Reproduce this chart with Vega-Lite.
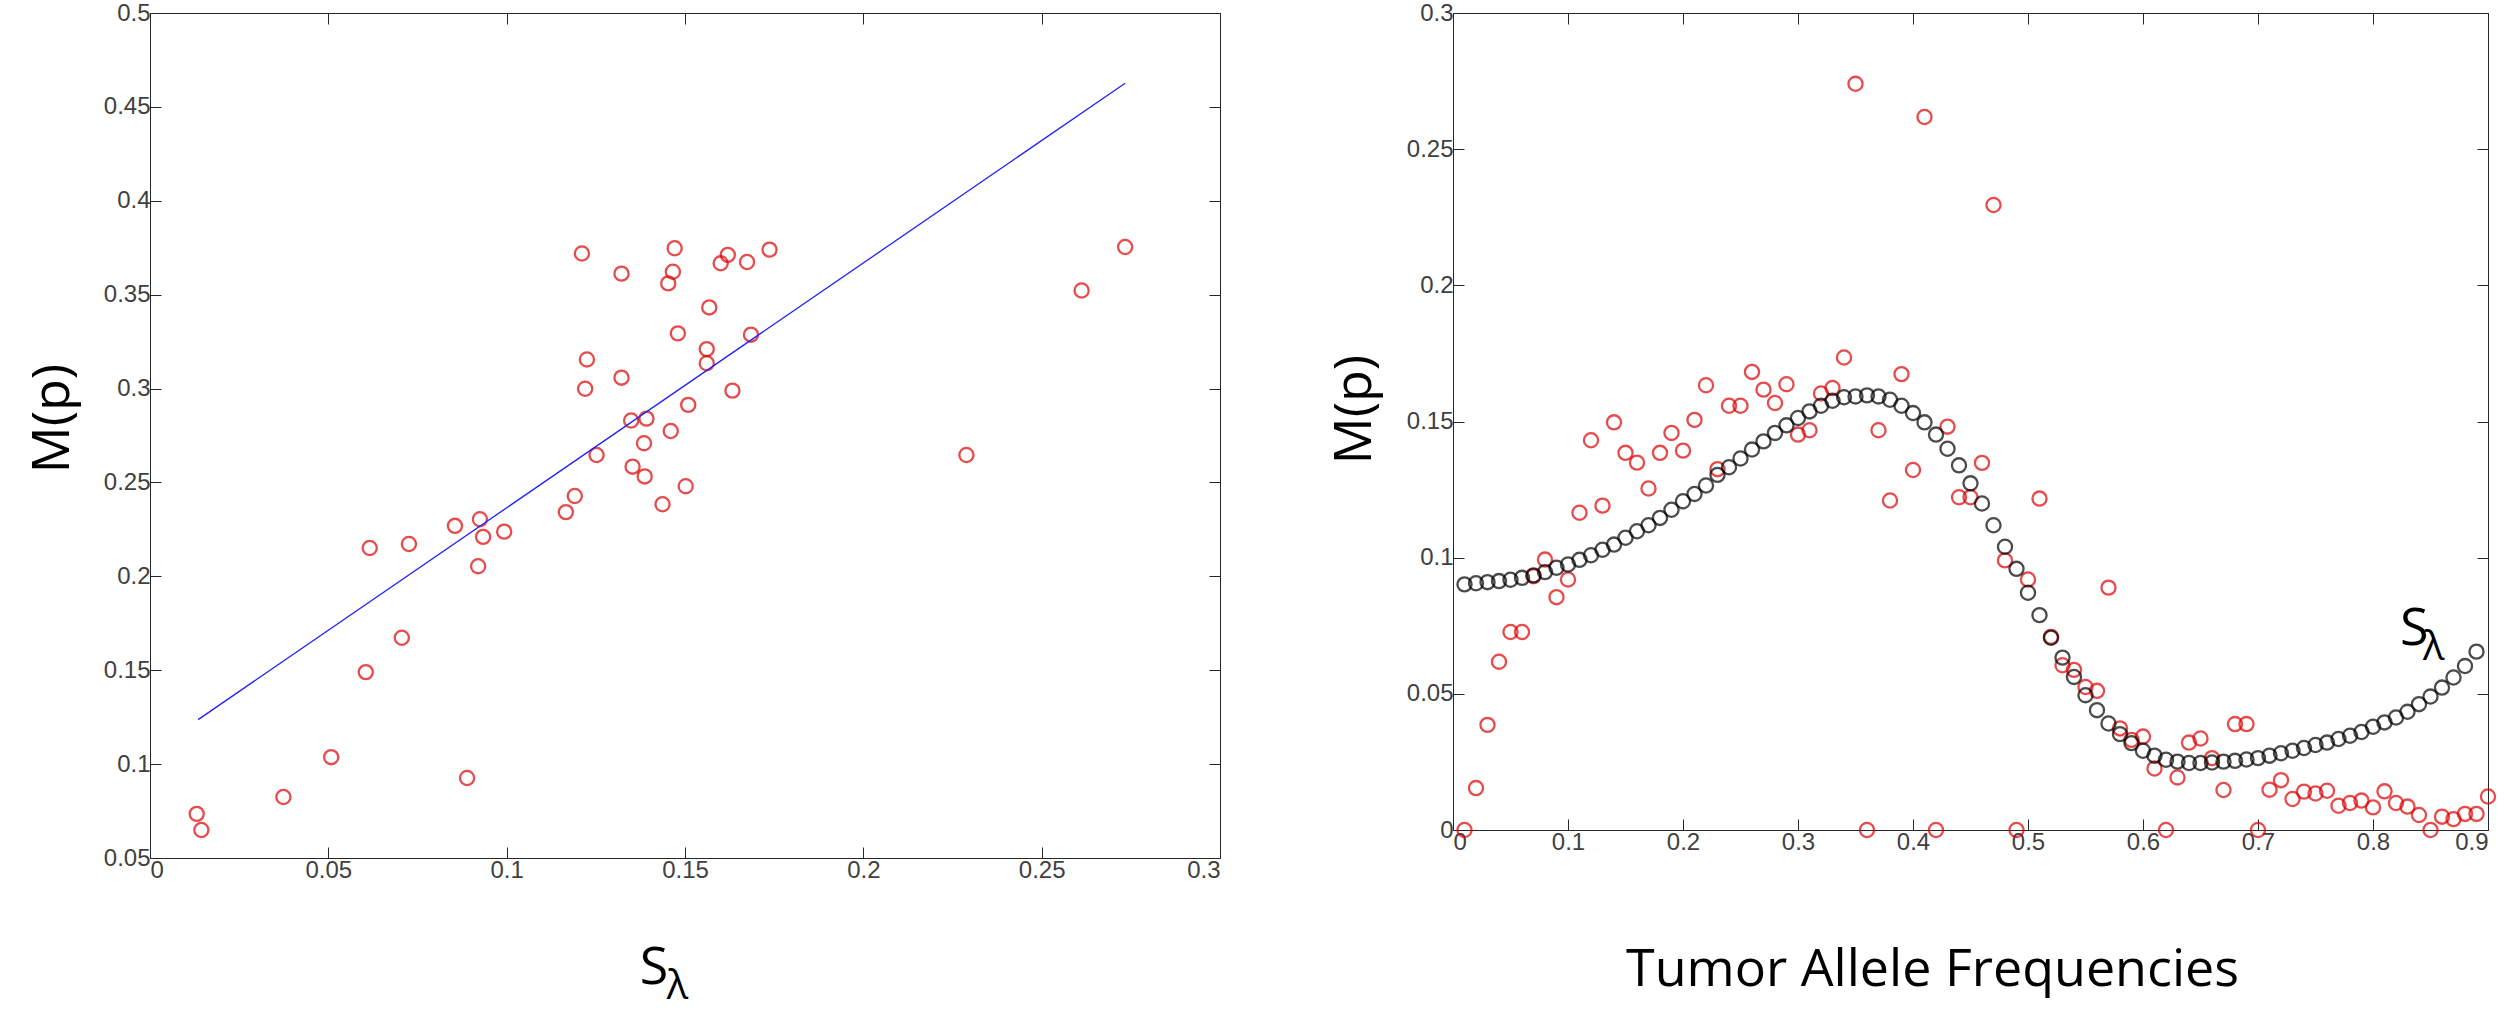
{
  "$schema": "https://vega.github.io/schema/vega-lite/v6.json",
  "padding": {"left": 25, "top": 0, "right": 0, "bottom": 15},
  "background": "white",
  "spacing": 233,
  "bounds": "flush",
  "config": {
    "view": {"stroke": "#262626", "strokeWidth": 1},
    "axis": {
      "grid": false,
      "domain": false,
      "ticks": true,
      "tickSize": -11,
      "tickColor": "#262626",
      "tickWidth": 1,
      "labelFont": "Liberation Sans",
      "labelFontSize": 24,
      "labelColor": "#404040",
      "labelPadding": 11,
      "titleFont": "Open Sans",
      "titleFontSize": 52,
      "titleFontWeight": "normal",
      "titleColor": "black"
    }
  },
  "datasets": {
    "scatter": [
      {"s": 0.0131, "m": 0.0735}, {"s": 0.0144, "m": 0.0649}, {"s": 0.0374, "m": 0.0825},
      {"s": 0.0508, "m": 0.1037}, {"s": 0.0605, "m": 0.149}, {"s": 0.0616, "m": 0.2151},
      {"s": 0.0706, "m": 0.1673}, {"s": 0.0726, "m": 0.2172}, {"s": 0.0855, "m": 0.2269},
      {"s": 0.0889, "m": 0.0926}, {"s": 0.0925, "m": 0.2304}, {"s": 0.0934, "m": 0.221},
      {"s": 0.092, "m": 0.2054}, {"s": 0.0993, "m": 0.2238}, {"s": 0.1166, "m": 0.2342},
      {"s": 0.1191, "m": 0.2428}, {"s": 0.1211, "m": 0.3719}, {"s": 0.1225, "m": 0.3155},
      {"s": 0.122, "m": 0.2999}, {"s": 0.1252, "m": 0.2646}, {"s": 0.1322, "m": 0.3612},
      {"s": 0.1322, "m": 0.3058}, {"s": 0.1349, "m": 0.283}, {"s": 0.1353, "m": 0.2584},
      {"s": 0.1392, "m": 0.284}, {"s": 0.1385, "m": 0.2709}, {"s": 0.1387, "m": 0.2532},
      {"s": 0.1437, "m": 0.2384}, {"s": 0.1453, "m": 0.356}, {"s": 0.1466, "m": 0.3622},
      {"s": 0.1471, "m": 0.3747}, {"s": 0.146, "m": 0.2774}, {"s": 0.148, "m": 0.3294},
      {"s": 0.1502, "m": 0.248}, {"s": 0.1509, "m": 0.2913}, {"s": 0.1568, "m": 0.3432},
      {"s": 0.1561, "m": 0.321}, {"s": 0.1561, "m": 0.3135}, {"s": 0.16, "m": 0.3667},
      {"s": 0.162, "m": 0.3712}, {"s": 0.1633, "m": 0.2989}, {"s": 0.1674, "m": 0.3674},
      {"s": 0.1685, "m": 0.3287}, {"s": 0.1737, "m": 0.374}, {"s": 0.2289, "m": 0.2646},
      {"s": 0.2612, "m": 0.3522}, {"s": 0.2734, "m": 0.3754}
    ],
    "fitline": [
      {"s": 0.0135, "m": 0.1237},
      {"s": 0.2734, "m": 0.4626}
    ],
    "observed": [
      {"f": 0.01, "m": 0}, {"f": 0.02, "m": 0.0154}, {"f": 0.03, "m": 0.0386}, {"f": 0.04, "m": 0.0618},
      {"f": 0.05, "m": 0.0727}, {"f": 0.06, "m": 0.0727}, {"f": 0.07, "m": 0.0932}, {"f": 0.08, "m": 0.0993},
      {"f": 0.09, "m": 0.0855}, {"f": 0.10, "m": 0.092}, {"f": 0.11, "m": 0.1165}, {"f": 0.12, "m": 0.1431},
      {"f": 0.13, "m": 0.1191}, {"f": 0.14, "m": 0.1497}, {"f": 0.15, "m": 0.1385}, {"f": 0.16, "m": 0.1349},
      {"f": 0.17, "m": 0.1254}, {"f": 0.18, "m": 0.1385}, {"f": 0.19, "m": 0.1458}, {"f": 0.20, "m": 0.1393},
      {"f": 0.21, "m": 0.1506}, {"f": 0.22, "m": 0.1633}, {"f": 0.23, "m": 0.1325}, {"f": 0.24, "m": 0.1558},
      {"f": 0.25, "m": 0.1558}, {"f": 0.26, "m": 0.1682}, {"f": 0.27, "m": 0.1617}, {"f": 0.28, "m": 0.1568},
      {"f": 0.29, "m": 0.1637}, {"f": 0.30, "m": 0.1452}, {"f": 0.31, "m": 0.1468}, {"f": 0.32, "m": 0.1603},
      {"f": 0.33, "m": 0.1623}, {"f": 0.34, "m": 0.1735}, {"f": 0.35, "m": 0.274}, {"f": 0.36, "m": 0},
      {"f": 0.37, "m": 0.1468}, {"f": 0.38, "m": 0.121}, {"f": 0.39, "m": 0.1674}, {"f": 0.40, "m": 0.1322},
      {"f": 0.41, "m": 0.2618}, {"f": 0.42, "m": 0}, {"f": 0.43, "m": 0.1481}, {"f": 0.44, "m": 0.1222},
      {"f": 0.45, "m": 0.1222}, {"f": 0.46, "m": 0.1348}, {"f": 0.47, "m": 0.2295}, {"f": 0.48, "m": 0.099},
      {"f": 0.49, "m": 0}, {"f": 0.50, "m": 0.092}, {"f": 0.51, "m": 0.1217}, {"f": 0.52, "m": 0.0709},
      {"f": 0.53, "m": 0.0605}, {"f": 0.54, "m": 0.0588}, {"f": 0.55, "m": 0.0525}, {"f": 0.56, "m": 0.0511},
      {"f": 0.57, "m": 0.089}, {"f": 0.58, "m": 0.0373}, {"f": 0.59, "m": 0.0331}, {"f": 0.60, "m": 0.0343},
      {"f": 0.61, "m": 0.0226}, {"f": 0.62, "m": 0}, {"f": 0.63, "m": 0.0193}, {"f": 0.64, "m": 0.0321},
      {"f": 0.65, "m": 0.0336}, {"f": 0.66, "m": 0.0264}, {"f": 0.67, "m": 0.0147}, {"f": 0.68, "m": 0.0389},
      {"f": 0.69, "m": 0.0389}, {"f": 0.70, "m": 0}, {"f": 0.71, "m": 0.0148}, {"f": 0.72, "m": 0.0183},
      {"f": 0.73, "m": 0.0114}, {"f": 0.74, "m": 0.0141}, {"f": 0.75, "m": 0.0134}, {"f": 0.76, "m": 0.0144},
      {"f": 0.77, "m": 0.0089}, {"f": 0.78, "m": 0.0099}, {"f": 0.79, "m": 0.0108}, {"f": 0.80, "m": 0.0083},
      {"f": 0.81, "m": 0.0142}, {"f": 0.82, "m": 0.0099}, {"f": 0.83, "m": 0.0086}, {"f": 0.84, "m": 0.0055},
      {"f": 0.85, "m": 0}, {"f": 0.86, "m": 0.0049}, {"f": 0.87, "m": 0.004}, {"f": 0.88, "m": 0.0059},
      {"f": 0.89, "m": 0.0059}, {"f": 0.90, "m": 0.0123}
    ],
    "slambda": [
      {"f": 0.01, "s": 0.0902}, {"f": 0.02, "s": 0.0906}, {"f": 0.03, "s": 0.091}, {"f": 0.04, "s": 0.0914},
      {"f": 0.05, "s": 0.0919}, {"f": 0.06, "s": 0.0926}, {"f": 0.07, "s": 0.0935}, {"f": 0.08, "s": 0.0947},
      {"f": 0.09, "s": 0.0963}, {"f": 0.10, "s": 0.0975}, {"f": 0.11, "s": 0.0992}, {"f": 0.12, "s": 0.1009},
      {"f": 0.13, "s": 0.1029}, {"f": 0.14, "s": 0.1048}, {"f": 0.15, "s": 0.1073}, {"f": 0.16, "s": 0.1097},
      {"f": 0.17, "s": 0.1119}, {"f": 0.18, "s": 0.1146}, {"f": 0.19, "s": 0.1176}, {"f": 0.20, "s": 0.1207},
      {"f": 0.21, "s": 0.1234}, {"f": 0.22, "s": 0.1265}, {"f": 0.23, "s": 0.1304}, {"f": 0.24, "s": 0.1332},
      {"f": 0.25, "s": 0.1364}, {"f": 0.26, "s": 0.1397}, {"f": 0.27, "s": 0.1427}, {"f": 0.28, "s": 0.1458},
      {"f": 0.29, "s": 0.1486}, {"f": 0.30, "s": 0.1513}, {"f": 0.31, "s": 0.1537}, {"f": 0.32, "s": 0.1558},
      {"f": 0.33, "s": 0.1576}, {"f": 0.34, "s": 0.1589}, {"f": 0.35, "s": 0.1592}, {"f": 0.36, "s": 0.1596},
      {"f": 0.37, "s": 0.1592}, {"f": 0.38, "s": 0.158}, {"f": 0.39, "s": 0.1558}, {"f": 0.40, "s": 0.1531},
      {"f": 0.41, "s": 0.1497}, {"f": 0.42, "s": 0.1452}, {"f": 0.43, "s": 0.14}, {"f": 0.44, "s": 0.1339},
      {"f": 0.45, "s": 0.1273}, {"f": 0.46, "s": 0.1199}, {"f": 0.47, "s": 0.1119}, {"f": 0.48, "s": 0.104},
      {"f": 0.49, "s": 0.0959}, {"f": 0.50, "s": 0.0871}, {"f": 0.51, "s": 0.0789}, {"f": 0.52, "s": 0.0706},
      {"f": 0.53, "s": 0.0633}, {"f": 0.54, "s": 0.0562}, {"f": 0.55, "s": 0.0495}, {"f": 0.56, "s": 0.044},
      {"f": 0.57, "s": 0.0391}, {"f": 0.58, "s": 0.0352}, {"f": 0.59, "s": 0.0319}, {"f": 0.60, "s": 0.0291},
      {"f": 0.61, "s": 0.0273}, {"f": 0.62, "s": 0.0258}, {"f": 0.63, "s": 0.0251}, {"f": 0.64, "s": 0.0246},
      {"f": 0.65, "s": 0.0246}, {"f": 0.66, "s": 0.0248}, {"f": 0.67, "s": 0.0251}, {"f": 0.68, "s": 0.0254},
      {"f": 0.69, "s": 0.0259}, {"f": 0.70, "s": 0.0264}, {"f": 0.71, "s": 0.0273}, {"f": 0.72, "s": 0.0282},
      {"f": 0.73, "s": 0.0291}, {"f": 0.74, "s": 0.0301}, {"f": 0.75, "s": 0.0312}, {"f": 0.76, "s": 0.0321},
      {"f": 0.77, "s": 0.0334}, {"f": 0.78, "s": 0.0346}, {"f": 0.79, "s": 0.036}, {"f": 0.80, "s": 0.0379},
      {"f": 0.81, "s": 0.0395}, {"f": 0.82, "s": 0.0413}, {"f": 0.83, "s": 0.0434}, {"f": 0.84, "s": 0.0462},
      {"f": 0.85, "s": 0.049}, {"f": 0.86, "s": 0.0523}, {"f": 0.87, "s": 0.056}, {"f": 0.88, "s": 0.0602},
      {"f": 0.89, "s": 0.0655}
    ]
  },
  "hconcat": [
    {
      "width": 1070,
      "height": 845,
      "layer": [
        {
          "data": {"name": "scatter"},
          "mark": {"type": "point", "shape": "circle", "filled": false, "color": "#dd0000", "size": 200, "strokeWidth": 2.3},
          "encoding": {
            "x": {
              "field": "s", "type": "quantitative",
              "scale": {"domain": [0, 0.3], "nice": false, "zero": false},
              "axis": {"orient": "bottom", "values": [0, 0.05, 0.1, 0.15, 0.2, 0.25, 0.3], "format": "~g", "title": null}
            },
            "y": {
              "field": "m", "type": "quantitative",
              "scale": {"domain": [0.05, 0.5], "nice": false, "zero": false},
              "axis": {
                "orient": "left",
                "values": [0.05, 0.1, 0.15, 0.2, 0.25, 0.3, 0.35, 0.4, 0.45, 0.5],
                "format": "~g",
                "title": "M(p)",
                "titleX": -82,
                "titleY": 405,
                "titleAlign": "center",
                "titleBaseline": "alphabetic",
                "titleAngle": 270
              }
            }
          }
        },
        {
          "data": {"name": "fitline"},
          "mark": {"type": "line", "color": "#2020ff", "strokeWidth": 1.3},
          "encoding": {
            "x": {
              "field": "s", "type": "quantitative",
              "axis": {"orient": "top", "values": [0, 0.05, 0.1, 0.15, 0.2, 0.25, 0.3], "labels": false, "title": null}
            },
            "y": {
              "field": "m", "type": "quantitative",
              "axis": {"orient": "right", "values": [0.05, 0.1, 0.15, 0.2, 0.25, 0.3, 0.35, 0.4, 0.45, 0.5], "labels": false, "title": null}
            }
          }
        },
        {
          "data": {"values": [{}]},
          "mark": {"type": "text", "text": "S", "font": "Open Sans", "fontSize": 52, "align": "left", "baseline": "alphabetic", "color": "black"},
          "encoding": {
            "x": {"datum": 0.1373, "type": "quantitative", "axis": null},
            "y": {"datum": -0.0171, "type": "quantitative", "axis": null}
          }
        },
        {
          "data": {"values": [{}]},
          "mark": {"type": "text", "text": "λ", "font": "Open Sans", "fontSize": 40, "align": "left", "baseline": "alphabetic", "color": "black"},
          "encoding": {
            "x": {"datum": 0.1449, "type": "quantitative", "axis": null},
            "y": {"datum": -0.0251, "type": "quantitative", "axis": null}
          }
        }
      ]
    },
    {
      "width": 1035,
      "height": 817,
      "layer": [
        {
          "data": {"name": "observed"},
          "mark": {"type": "point", "shape": "circle", "filled": false, "color": "#dd0000", "size": 200, "strokeWidth": 2.3},
          "encoding": {
            "x": {
              "field": "f", "type": "quantitative",
              "scale": {"domain": [0, 0.9], "nice": false, "zero": false},
              "axis": {
                "orient": "bottom",
                "values": [0, 0.1, 0.2, 0.3, 0.4, 0.5, 0.6, 0.7, 0.8, 0.9],
                "format": "~g",
                "title": "Tumor Allele Frequencies",
                "titleX": 479,
                "titleY": 155,
                "titleAlign": "center",
                "titleBaseline": "alphabetic"
              }
            },
            "y": {
              "field": "m", "type": "quantitative",
              "scale": {"domain": [0, 0.3], "nice": false, "zero": false},
              "axis": {
                "orient": "left",
                "values": [0, 0.05, 0.1, 0.15, 0.2, 0.25, 0.3],
                "format": "~g",
                "title": "M(p)",
                "titleX": -83,
                "titleY": 396,
                "titleAlign": "center",
                "titleBaseline": "alphabetic",
                "titleAngle": 270
              }
            }
          }
        },
        {
          "data": {"name": "slambda"},
          "mark": {"type": "point", "shape": "circle", "filled": false, "color": "black", "size": 200, "strokeWidth": 2.3},
          "encoding": {
            "x": {
              "field": "f", "type": "quantitative",
              "axis": {"orient": "top", "values": [0, 0.1, 0.2, 0.3, 0.4, 0.5, 0.6, 0.7, 0.8, 0.9], "labels": false, "title": null}
            },
            "y": {
              "field": "s", "type": "quantitative",
              "axis": {"orient": "right", "values": [0, 0.05, 0.1, 0.15, 0.2, 0.25, 0.3], "labels": false, "title": null}
            }
          }
        },
        {
          "data": {"values": [{}]},
          "mark": {"type": "text", "text": "S", "font": "Open Sans", "fontSize": 52, "align": "left", "baseline": "alphabetic", "color": "black"},
          "encoding": {
            "x": {"datum": 0.8235, "type": "quantitative", "axis": null},
            "y": {"datum": 0.0681, "type": "quantitative", "axis": null}
          }
        },
        {
          "data": {"values": [{}]},
          "mark": {"type": "text", "text": "λ", "font": "Open Sans", "fontSize": 40, "align": "left", "baseline": "alphabetic", "color": "black"},
          "encoding": {
            "x": {"datum": 0.8435, "type": "quantitative", "axis": null},
            "y": {"datum": 0.0626, "type": "quantitative", "axis": null}
          }
        }
      ]
    }
  ]
}
